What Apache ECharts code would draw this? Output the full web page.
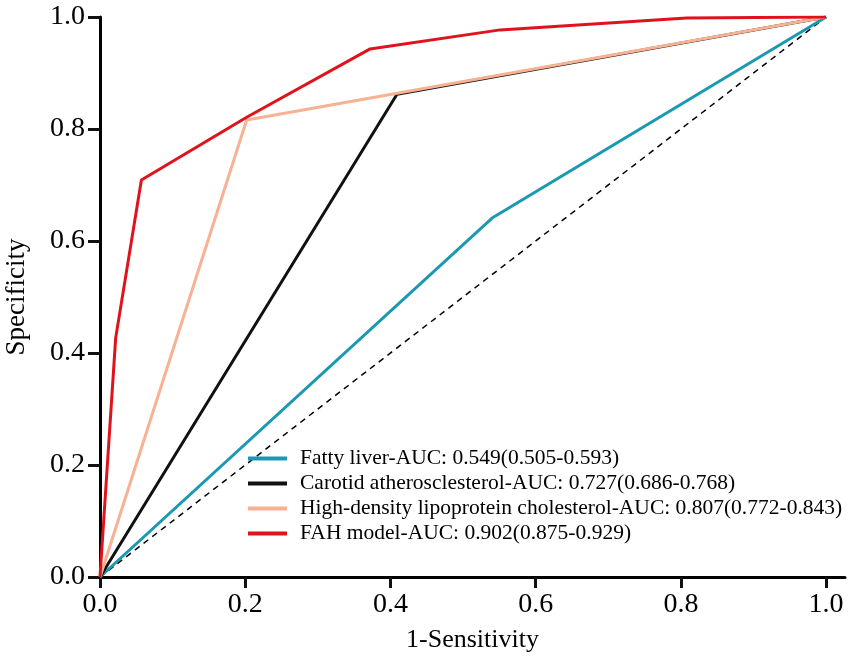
<!DOCTYPE html>
<html>
<head>
<meta charset="utf-8">
<script src="https://cdn.jsdelivr.net/npm/echarts@6/dist/echarts.min.js"></script>
<style>html,body{margin:0;padding:0;background:#fff}#c{width:851px;height:666px}</style>
</head>
<body>
<div id="c"></div>
<script>
var tickValues = [0, 0.2, 0.4, 0.6, 0.8, 1.0];
var seriesNames = [
  'Fatty liver-AUC: 0.549(0.505-0.593)',
  'Carotid atherosclesterol-AUC: 0.727(0.686-0.768)',
  'High-density lipoprotein cholesterol-AUC: 0.807(0.772-0.843)',
  'FAH model-AUC: 0.902(0.875-0.929)'
];
var fattyLiver = [[0, 0], [0.540, 0.641], [1, 1]];
var carotid = [[0, 0], [0.409, 0.862], [1, 1]];
var hdl = [[0, 0], [0.202, 0.816], [1, 1]];
var fah = [[0, 0], [0.0216, 0.427], [0.057, 0.709], [0.202, 0.821], [0.372, 0.943], [0.551, 0.977], [0.808, 0.998], [1, 1]];
var reference = [[0, 0], [1, 1]];
var colors = ['#1b98b2', '#111111', '#f7b193', '#e0131c'];

var chart = echarts.init(document.getElementById('c'));
var font = 'Liberation Serif';
function lineSeries(name, data, color) {
  return {
    name: name, type: 'line', data: data, symbol: 'none',
    lineStyle: { color: color, width: 3 }, itemStyle: { color: color },
    animation: false
  };
}
chart.setOption({
  animation: false,
  grid: { left: 100, top: 17, right: 6, bottom: 89, containLabel: false, outerBoundsMode: 'none' },
  xAxis: {
    type: 'value', min: 0, max: 1.026,
    name: '1-Sensitivity', nameLocation: 'middle', nameGap: 50,
    nameTextStyle: { fontFamily: font, fontSize: 26, color: '#000' },
    axisLine: { show: true, lineStyle: { color: '#000', width: 3 } },
    axisTick: { show: true, inside: false, length: 11, lineStyle: { color: '#111', width: 3 }, customValues: tickValues },
    axisLabel: { fontFamily: font, fontSize: 28, color: '#000', margin: 14, customValues: tickValues,
      formatter: function (v) { return v.toFixed(1); } },
    splitLine: { show: true, lineStyle: { color: 'rgba(0,0,0,0)' } }
  },
  yAxis: {
    type: 'value', min: 0, max: 1, interval: 0.2,
    name: 'Specificity', nameLocation: 'middle', nameGap: 70,
    nameTextStyle: { fontFamily: font, fontSize: 27, color: '#000' },
    axisLine: { show: true, lineStyle: { color: '#000', width: 3 } },
    axisTick: { show: true, inside: false, length: 12, lineStyle: { color: '#111', width: 3 } },
    axisLabel: { fontFamily: font, fontSize: 28, color: '#000', margin: 15,
      formatter: function (v) { return v.toFixed(1); } },
    splitLine: { show: true, lineStyle: { color: 'rgba(0,0,0,0)' } }
  },
  legend: {
    orient: 'vertical', left: 248, top: 446, padding: 0,
    data: seriesNames, icon: 'rect', itemWidth: 39, itemHeight: 4, itemGap: 0,
    textStyle: { fontFamily: font, fontSize: 21.5, color: '#000', lineHeight: 25, padding: [0, 0, 0, 8] }
  },
  series: [
    {
      name: 'reference', type: 'line', data: reference, symbol: 'none',
      lineStyle: { color: '#000', width: 1.5, type: [6, 5] }, z: 1
    },
    lineSeries(seriesNames[0], fattyLiver, colors[0]),
    lineSeries(seriesNames[1], carotid, colors[1]),
    lineSeries(seriesNames[2], hdl, colors[2]),
    lineSeries(seriesNames[3], fah, colors[3])
  ]
});
</script>
</body>
</html>
